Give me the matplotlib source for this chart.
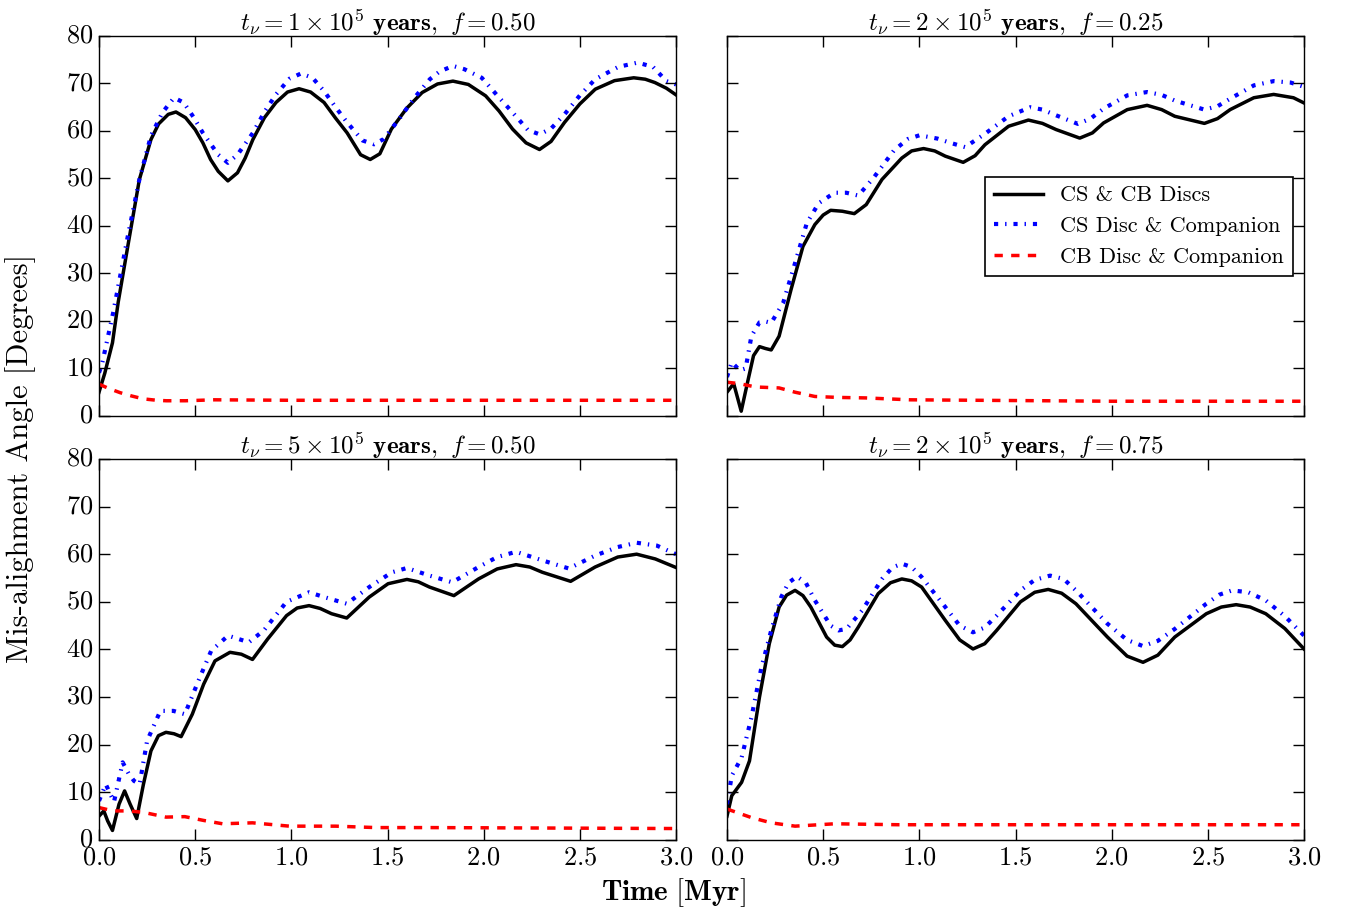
import matplotlib
matplotlib.use('Agg')
import matplotlib.pyplot as plt

plt.style.use('classic')
plt.rcParams['font.family'] = 'serif'
plt.rcParams['font.serif'] = ['cmr10']
plt.rcParams['mathtext.fontset'] = 'cm'
plt.rcParams['axes.formatter.use_mathtext'] = True
plt.rcParams['figure.facecolor'] = 'white'
plt.rcParams['savefig.facecolor'] = 'white'

# panel 1: t_nu = 1e5 yr, f = 0.50
t1_cc = [0, 0.03, 0.07, 0.10, 0.15, 0.21, 0.27, 0.31, 0.36, 0.40, 0.45, 0.50, 0.54, 0.58, 0.62, 0.67,
         0.72, 0.76, 0.80, 0.86, 0.92, 0.98, 1.04, 1.10, 1.17, 1.23, 1.29, 1.36, 1.41, 1.46, 1.52,
         1.60, 1.68, 1.76, 1.84, 1.92, 2.01, 2.08, 2.15, 2.22, 2.29, 2.35, 2.42, 2.50, 2.58, 2.68,
         2.78, 2.84, 2.89, 2.95, 3.0]
a1_cc = [5.0, 9.0, 15.4, 24.0, 35.8, 49.8, 58.2, 61.5, 63.5, 64.0, 62.8, 60.3, 57.5, 54.0, 51.5, 49.5,
         51.2, 54.3, 58.2, 62.8, 66.0, 68.2, 68.9, 68.2, 66.0, 62.7, 59.6, 55.0, 54.0, 55.2, 60.4,
         64.8, 68.1, 69.9, 70.5, 69.8, 67.4, 64.2, 60.4, 57.5, 56.1, 57.8, 61.8, 65.7, 68.8, 70.6,
         71.2, 70.9, 70.2, 69.0, 67.6]
t1_cs = [0, 0.016, 0.074, 0.15, 0.21, 0.27, 0.33, 0.39, 0.44, 0.49, 0.54, 0.62, 0.67, 0.72, 0.80,
         0.86, 0.92, 0.99, 1.05, 1.11, 1.17, 1.23, 1.29, 1.37, 1.43, 1.48, 1.56, 1.64, 1.72, 1.77,
         1.84, 1.90, 1.99, 2.07, 2.15, 2.23, 2.29, 2.35, 2.42, 2.50, 2.58, 2.70, 2.80, 2.88, 2.95,
         3.0]
a1_cs = [9.1, 11.0, 21.8, 37.9, 49.8, 59.0, 63.9, 67.0, 66.0, 63.0, 59.6, 55.0, 53.3, 55.0, 59.6,
         64.0, 67.7, 71.0, 72.1, 71.2, 68.4, 65.0, 61.8, 58.0, 57.2, 58.3, 62.5, 67.0, 70.9, 72.5,
         73.7, 73.0, 71.2, 67.5, 63.9, 60.2, 59.3, 60.5, 63.5, 67.5, 70.9, 73.5, 74.4, 73.5, 70.5,
         69.8]
t1_cb = [0, 0.05, 0.11, 0.17, 0.23, 0.30, 0.35, 0.45, 0.6, 1.0, 1.5, 2.0, 2.5, 3.0]
a1_cb = [6.7, 5.8, 4.9, 4.2, 3.6, 3.3, 3.2, 3.2, 3.4, 3.3, 3.3, 3.3, 3.3, 3.3]

# panel 2: t_nu = 2e5 yr, f = 0.25
t2_cc = [0, 0.035, 0.074, 0.107, 0.138, 0.169, 0.200, 0.230, 0.271, 0.333, 0.395, 0.457, 0.500,
         0.539, 0.600, 0.662, 0.724, 0.806, 0.909, 0.960, 1.022, 1.080, 1.135, 1.228, 1.290, 1.341,
         1.464, 1.567, 1.640, 1.711, 1.834, 1.900, 1.958, 2.081, 2.184, 2.260, 2.328, 2.482, 2.550,
         2.616, 2.739, 2.842, 2.945, 3.0]
a2_cc = [5.0, 6.8, 1.0, 7.1, 12.7, 14.6, 14.2, 13.9, 16.8, 26.6, 35.7, 40.3, 42.3,
         43.3, 43.1, 42.6, 44.5, 49.8, 54.3, 55.8, 56.3, 55.8, 54.7, 53.4, 54.8, 57.1,
         61.0, 62.3, 61.6, 60.3, 58.5, 59.6, 61.7, 64.5, 65.4, 64.5, 63.1, 61.6, 62.6,
         64.5, 67.0, 67.7, 67.0, 65.9]
t2_cs = [0, 0.025, 0.066, 0.097, 0.127, 0.169, 0.200, 0.230, 0.292, 0.354, 0.415, 0.477, 0.559,
         0.620, 0.683, 0.765, 0.868, 0.940, 1.001, 1.094, 1.170, 1.238, 1.341, 1.464, 1.577, 1.640,
         1.711, 1.824, 1.890, 1.958, 2.081, 2.184, 2.260, 2.328, 2.482, 2.550, 2.616, 2.739, 2.842,
         2.930, 3.0]
a2_cs = [8.2, 11.3, 9.6, 10.0, 16.8, 19.7, 19.9, 19.6, 23.8, 32.2, 40.6, 44.8, 47.0,
         47.0, 46.4, 50.3, 55.9, 58.3, 59.1, 58.4, 57.4, 56.6, 59.4, 63.1, 65.0, 64.5,
         63.3, 61.5, 62.6, 64.7, 67.5, 68.2, 67.6, 66.4, 64.5, 65.2, 66.8, 69.6, 70.5,
         70.2, 69.3]
t2_cb = [0, 0.066, 0.148, 0.271, 0.354, 0.457, 0.58, 0.72, 0.95, 1.3, 2.0, 3.0]
a2_cb = [7.1, 6.8, 6.1, 5.9, 5.0, 4.1, 3.9, 3.8, 3.4, 3.3, 3.1, 3.1]

# panel 3: t_nu = 5e5 yr, f = 0.50
t3_cc = [0, 0.025, 0.045, 0.070, 0.104, 0.133, 0.162, 0.196, 0.231, 0.270, 0.309, 0.348, 0.390,
         0.427, 0.485, 0.544, 0.603, 0.681, 0.740, 0.798, 0.877, 0.975, 1.030, 1.092, 1.150, 1.209,
         1.288, 1.405, 1.503, 1.601, 1.660, 1.718, 1.845, 1.973, 2.070, 2.168, 2.240, 2.305, 2.452,
         2.579, 2.697, 2.795, 2.892, 3.0]
a3_cc = [5.0, 6.1, 4.0, 2.0, 7.5, 10.3, 7.5, 4.5, 11.7, 18.7, 21.9, 22.6, 22.3,
         21.7, 26.4, 32.7, 37.6, 39.4, 39.0, 37.9, 42.2, 47.1, 48.7, 49.2, 48.6, 47.5,
         46.6, 51.0, 53.8, 54.7, 54.2, 53.1, 51.3, 54.8, 56.9, 57.8, 57.3, 56.2, 54.3,
         57.3, 59.4, 60.0, 59.0, 57.2]
t3_cs = [0, 0.035, 0.078, 0.123, 0.153, 0.182, 0.211, 0.250, 0.319, 0.387, 0.446, 0.524, 0.583,
         0.671, 0.779, 0.857, 0.975, 1.092, 1.170, 1.288, 1.405, 1.523, 1.601, 1.718, 1.836, 1.973,
         2.070, 2.168, 2.305, 2.442, 2.579, 2.697, 2.795, 2.900, 3.0]
a3_cs = [8.2, 11.7, 8.0, 16.3, 14.0, 12.4, 11.7, 20.8, 27.1, 27.1, 26.4, 34.1, 39.7,
         42.9, 41.5, 44.0, 50.0, 52.0, 51.0, 49.6, 53.1, 56.2, 57.1, 55.5, 54.1, 57.3,
         59.4, 60.5, 58.7, 57.0, 59.7, 61.5, 62.4, 61.8, 60.0]
t3_cb = [0, 0.074, 0.153, 0.231, 0.348, 0.446, 0.544, 0.642, 0.798, 0.99, 1.23, 1.44, 1.72, 3.0]
a3_cb = [6.8, 6.1, 6.1, 5.8, 4.8, 4.9, 4.1, 3.4, 3.6, 2.9, 2.9, 2.6, 2.6, 2.4]

# panel 4: t_nu = 2e5 yr, f = 0.75
t4_cc = [0, 0.025, 0.076, 0.117, 0.169, 0.220, 0.271, 0.310, 0.354, 0.395, 0.436, 0.518, 0.560,
         0.600, 0.640, 0.683, 0.786, 0.850, 0.909, 0.960, 1.012, 1.135, 1.210, 1.279, 1.340, 1.402,
         1.526, 1.600, 1.670, 1.740, 1.814, 1.978, 2.080, 2.163, 2.240, 2.328, 2.492, 2.570, 2.647,
         2.720, 2.801, 2.900, 3.0]
a4_cc = [5.0, 9.3, 12.1, 16.6, 30.0, 41.2, 48.9, 51.4, 52.4, 51.3, 48.9, 42.6, 40.9,
         40.6, 42.0, 44.7, 51.7, 54.0, 54.8, 54.4, 53.1, 46.1, 42.0, 40.1, 41.2, 44.0,
         50.0, 52.0, 52.6, 51.8, 49.6, 42.6, 38.6, 37.3, 38.8, 42.6, 47.5, 48.9, 49.4,
         48.9, 47.5, 44.4, 40.1]
t4_cs = [0, 0.025, 0.076, 0.127, 0.179, 0.230, 0.282, 0.320, 0.364, 0.410, 0.457, 0.539, 0.580,
         0.621, 0.703, 0.806, 0.860, 0.909, 0.960, 1.012, 1.135, 1.210, 1.279, 1.340, 1.402, 1.526,
         1.600, 1.680, 1.750, 1.814, 1.978, 2.080, 2.163, 2.240, 2.328, 2.492, 2.560, 2.626, 2.710,
         2.801, 2.900, 3.0]
a4_cs = [7.5, 13.5, 17.3, 25.7, 36.2, 44.0, 51.0, 54.0, 55.3, 54.0, 50.3, 45.0, 44.0,
         44.3, 48.2, 54.8, 57.2, 58.0, 57.3, 55.2, 48.9, 45.0, 43.6, 44.6, 47.1, 52.4,
         54.6, 55.5, 54.8, 52.4, 45.4, 42.0, 40.7, 41.8, 44.3, 49.6, 51.5, 52.4, 52.0,
         50.3, 47.0, 42.9]
t4_cb = [0, 0.127, 0.230, 0.354, 0.56, 0.89, 1.5, 3.0]
a4_cb = [6.5, 4.7, 3.6, 2.9, 3.4, 3.2, 3.2, 3.2]

titles = [r'$t_{\nu} = 1 \times 10^{5}$ $\mathbf{years,}$ $f = 0.50$',
          r'$t_{\nu} = 2 \times 10^{5}$ $\mathbf{years,}$ $f = 0.25$',
          r'$t_{\nu} = 5 \times 10^{5}$ $\mathbf{years,}$ $f = 0.50$',
          r'$t_{\nu} = 2 \times 10^{5}$ $\mathbf{years,}$ $f = 0.75$']
labels = ['CS & CB Discs', 'CS Disc & Companion', 'CB Disc & Companion']

panels = [(t1_cc, a1_cc, t1_cs, a1_cs, t1_cb, a1_cb),
          (t2_cc, a2_cc, t2_cs, a2_cs, t2_cb, a2_cb),
          (t3_cc, a3_cc, t3_cs, a3_cs, t3_cb, a3_cb),
          (t4_cc, a4_cc, t4_cs, a4_cs, t4_cb, a4_cb)]

fig = plt.figure(figsize=(13.47, 9.16), dpi=100)
rects = [[0.0735, 0.5459, 0.4284, 0.4148],
         [0.5397, 0.5459, 0.4284, 0.4148],
         [0.0735, 0.0830, 0.4284, 0.4160],
         [0.5397, 0.0830, 0.4284, 0.4160]]

axes = []
for i, (rect, p) in enumerate(zip(rects, panels)):
    ax = fig.add_axes(rect)
    tc, ac, ts, as_, tb, ab = p
    ax.plot(tc, ac, '-', color='k', lw=2.5, label=labels[0])
    ax.plot(ts, as_, '-.', color='b', lw=3, label=labels[1])
    ax.plot(tb, ab, '--', color='r', lw=2.5, label=labels[2])
    ax.set_xlim(0, 3.0)
    ax.set_ylim(0, 80)
    ax.set_xticks([0.0, 0.5, 1.0, 1.5, 2.0, 2.5, 3.0])
    ax.set_yticks(range(0, 81, 10))
    ax.tick_params(labelsize=19, length=8, width=1, direction='in', top=True, right=True)
    ax.set_title(titles[i], fontsize=18, pad=4)
    if i < 2:
        ax.set_xticklabels([])
    if i % 2 == 1:
        ax.set_yticklabels([])
    axes.append(ax)

leg = axes[1].legend(loc='upper right', bbox_to_anchor=(0.981, 0.629), borderaxespad=0,
                     fontsize=16, frameon=True, fancybox=False, handlelength=2.2,
                     borderpad=0.4, labelspacing=0.5, numpoints=1)
leg.get_frame().set_edgecolor('k')
leg.get_frame().set_linewidth(1.2)

fig.text(0.5, 0.008, r'$\mathbf{Time\ [Myr]}$', ha='center', va='bottom', fontsize=21)
fig.text(0.004, 0.5, 'Mis-alighment Angle [Degrees]', ha='left', va='center',
         rotation=90, fontsize=22)

fig.savefig('out.png', dpi=100)
